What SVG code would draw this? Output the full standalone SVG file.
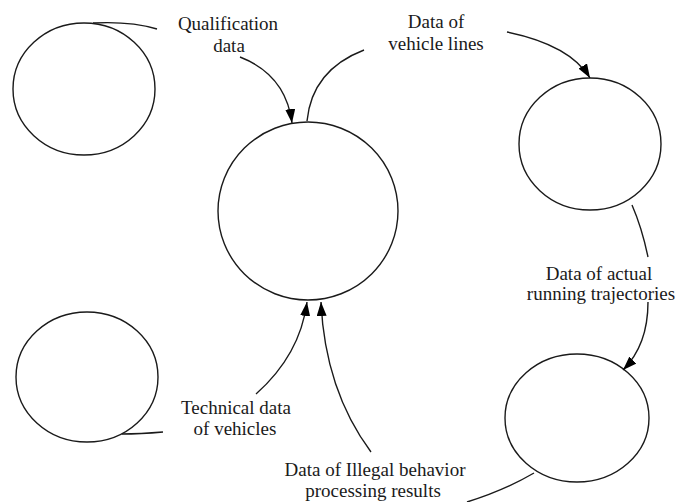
<svg xmlns="http://www.w3.org/2000/svg" width="681" height="502" viewBox="0 0 681 502">
<style>
.node{fill:none;stroke:#1a1a1a;stroke-width:1.4}
.conn{fill:none;stroke:#1a1a1a;stroke-width:1.4}
.lbl{font-family:'Liberation Serif','Times New Roman',Times,serif;font-size:19px;fill:#1a1a1a;text-anchor:middle}
</style>
<defs>
<marker id="arr" viewBox="0 0 14 10" refX="14" refY="5" markerWidth="14" markerHeight="10" markerUnits="userSpaceOnUse" orient="auto">
<path d="M0,0 L14,5 L0,10 Z" fill="#000"/>
</marker>
</defs>
<rect width="681" height="502" fill="#fff"/>
<g id="node-top-left"><ellipse class="node" cx="84" cy="89" rx="71" ry="66"/></g>
<g id="node-center"><ellipse class="node" cx="308" cy="211" rx="90" ry="89"/></g>
<g id="node-top-right"><ellipse class="node" cx="590" cy="144" rx="71" ry="66"/></g>
<g id="node-bottom-left"><ellipse class="node" cx="87" cy="377" rx="71" ry="65"/></g>
<g id="node-bottom-right"><ellipse class="node" cx="577" cy="418" rx="72" ry="64"/></g>
<g id="connectors">
<path class="conn" d="M93,23 Q130,21 157,29"/>
<path class="conn" d="M240,57 Q286,75 292,123" marker-end="url(#arr)"/>
<path class="conn" d="M307,121 Q312,70 364,50"/>
<path class="conn" d="M507,32 Q570,45 590,78" marker-end="url(#arr)"/>
<path class="conn" d="M632,205 Q642,228 648,257"/>
<path class="conn" d="M648,302 Q648,345 623,370" marker-end="url(#arr)"/>
<path class="conn" d="M534,473 Q505,490 467,502"/>
<path class="conn" d="M122,434 Q140,434 163,432"/>
<path class="conn" d="M256,394 Q300,355 307,302" marker-end="url(#arr)"/>
<path class="conn" d="M371,452 Q325,390 321,302" marker-end="url(#arr)"/>
</g>
<g id="labels" font-family="Liberation Serif, serif">
<text class="lbl" x="228" y="30">Qualification</text>
<text class="lbl" x="229" y="52">data</text>
<text class="lbl" x="436" y="28">Data of</text>
<text class="lbl" x="436" y="50">vehicle lines</text>
<text class="lbl" x="599" y="280">Data of actual</text>
<text class="lbl" x="601" y="300">running trajectories</text>
<text class="lbl" x="236" y="414">Technical data</text>
<text class="lbl" x="235" y="435">of vehicles</text>
<text class="lbl" x="375" y="476">Data of Illegal behavior</text>
<text class="lbl" x="373" y="497">processing results</text>
</g>
</svg>
